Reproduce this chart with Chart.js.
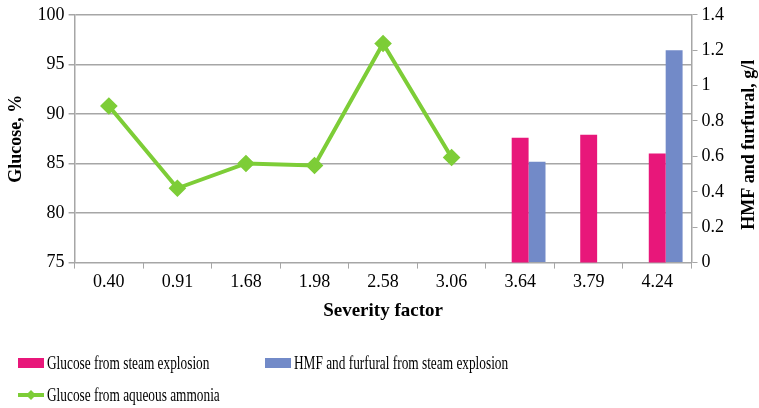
<!DOCTYPE html>
<html>
<head>
<meta charset="utf-8">
<script src="https://cdn.jsdelivr.net/npm/chart.js@4/dist/chart.umd.min.js"></script>
<style>
  html, body { margin: 0; padding: 0; background: #fff; }
</style>
</head>
<body>
<canvas id="c" width="759" height="408"></canvas>
<script>
// Severity factor categories
const categories = ["0.40", "0.91", "1.68", "1.98", "2.58", "3.06", "3.64", "3.79", "4.24"];

// Glucose yield (%) from steam explosion pretreatment
const glucoseSteam = [null, null, null, null, null, null, 87.6, 87.9, 86.0];
// HMF and furfural concentration (g/l) from steam explosion
const hmfFurfural = [null, null, null, null, null, null, 0.57, null, 1.2];
// Glucose yield (%) from aqueous ammonia pretreatment
const glucoseAmmonia = [90.8, 82.5, 85.0, 84.8, 97.1, 85.6, null, null, null];

const seriesNames = [
  "Glucose from steam explosion",
  "HMF and furfural from steam explosion",
  "Glucose from aqueous ammonia"
];

const PINK = "#E8177A";
const BLUE = "#728AC8";
const GREEN = "#7DCD37";
const GRID = "#A6A6A6";
const FONT = "Liberation Serif, DejaVu Serif, serif";

// Right axis title reading bottom-to-top, plus the two-column legend below the plot
const extras = {
  id: "extras",
  afterDraw(chart) {
    const { ctx, chartArea } = chart;
    ctx.save();
    ctx.font = "bold 18px " + FONT;
    ctx.fillStyle = "#000";
    ctx.textAlign = "center";
    ctx.textBaseline = "middle";
    ctx.translate(749, (chartArea.top + chartArea.bottom) / 2 + 6);
    ctx.rotate(-Math.PI / 2);
    ctx.fillText("HMF and furfural, g/l", 0, 0);
    ctx.restore();

    const slots = [
      { x: 18, y: 363 },
      { x: 265, y: 363 },
      { x: 18, y: 395 }
    ];
    const sets = chart.data.datasets.filter(d => d.label !== "_slot");
    sets.forEach((ds, i) => {
      const { x, y } = slots[i];
      ctx.save();
      if (ds.type === "line") {
        ctx.fillStyle = ds.borderColor;
        ctx.fillRect(x, y - 2, 26, 4);
        ctx.beginPath();
        ctx.moveTo(x + 13, y - 5);
        ctx.lineTo(x + 18, y);
        ctx.lineTo(x + 13, y + 5);
        ctx.lineTo(x + 8, y);
        ctx.closePath();
        ctx.fill();
      } else {
        ctx.fillStyle = ds.backgroundColor;
        ctx.fillRect(x, y - 5, 26, 10);
      }
      // narrow serif legend text
      ctx.font = "18px " + FONT;
      ctx.textAlign = "left";
      ctx.textBaseline = "middle";
      ctx.fillStyle = "#000";
      ctx.translate(x + 29, y + 1);
      ctx.scale(0.74, 1);
      ctx.fillText(ds.label, 0, 0);
      ctx.restore();
    });
  }
};

const chart = new Chart(document.getElementById("c"), {
  type: "bar",
  data: {
    labels: categories,
    datasets: [
      { // empty slot on the left of each category, so the pink bar sits at the centre
        label: "_slot", data: categories.map(() => null),
        backgroundColor: "transparent", yAxisID: "y", order: 2
      },
      {
        label: seriesNames[0], data: glucoseSteam, backgroundColor: PINK,
        yAxisID: "y", order: 2
      },
      {
        label: seriesNames[1], data: hmfFurfural, backgroundColor: BLUE,
        yAxisID: "y2", order: 2
      },
      {
        type: "line", label: seriesNames[2], data: glucoseAmmonia,
        borderColor: GREEN, backgroundColor: GREEN, borderWidth: 4,
        pointStyle: "rectRot", pointRadius: 6, pointHoverRadius: 6,
        pointBackgroundColor: GREEN, pointBorderColor: GREEN,
        yAxisID: "y", order: 1, spanGaps: false, tension: 0
      }
    ]
  },
  options: {
    responsive: false,
    animation: false,
    devicePixelRatio: 1,
    datasets: { bar: { categoryPercentage: 0.74, barPercentage: 1 } },
    layout: { padding: { left: 6, right: 31, top: 6, bottom: 86 } },
    plugins: { legend: { display: false }, tooltip: { enabled: false } },
    scales: {
      x: {
        offset: true,
        grid: { display: true, offset: true, drawOnChartArea: false, drawTicks: true,
                tickLength: 6, color: GRID },
        border: { display: true, color: GRID, width: 1 },
        ticks: { color: "#000", font: { family: FONT, size: 18 }, padding: 3, maxRotation: 0 },
        title: { display: true, text: "Severity factor", color: "#000",
                 font: { family: FONT, size: 19, weight: "bold" }, padding: { top: 3, bottom: 0 } }
      },
      y: {
        position: "left", min: 75, max: 100,
        ticks: { stepSize: 5, color: "#000", font: { family: FONT, size: 18 }, padding: 4 },
        grid: { color: GRID, tickLength: 6, lineWidth: 1.5 },
        border: { display: true, color: GRID, width: 1.5 },
        title: { display: true, text: "Glucose, %", color: "#000",
                 font: { family: FONT, size: 18, weight: "bold" }, padding: { top: 0, bottom: 6 } }
      },
      y2: {
        position: "right", min: 0, max: 1.4,
        ticks: { stepSize: 0.2, color: "#000", font: { family: FONT, size: 18 }, padding: 4,
                 callback: v => String(parseFloat(v.toFixed(1))) },
        grid: { drawOnChartArea: false, color: GRID, tickLength: 6 },
        border: { display: true, color: GRID, width: 1.5 }
      }
    }
  },
  plugins: [extras]
});
</script>
</body>
</html>
